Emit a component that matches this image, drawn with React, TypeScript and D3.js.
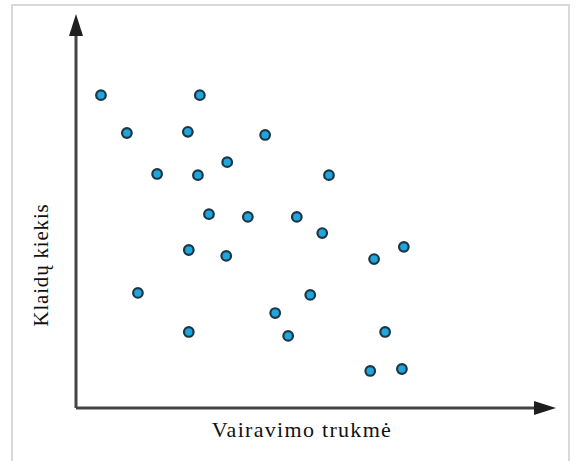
import React from "react";
import * as d3 from "d3";

// schematic scatter: no ticks, values on 0..100 scale
const xValues = [5.2, 25.8, 10.6, 23.3, 39.4, 16.9, 25.4, 31.5, 52.7, 27.7, 35.8, 46.0, 51.3, 23.5, 31.3, 62.1, 68.3, 12.9, 48.8, 41.5, 23.5, 44.2, 64.4, 61.3, 67.9];
const yValues = [79.4, 79.4, 69.8, 70.1, 69.3, 59.4, 59.1, 62.4, 59.1, 49.2, 48.5, 48.5, 44.4, 40.1, 38.6, 37.8, 40.9, 29.2, 28.7, 24.1, 19.3, 18.3, 19.3, 9.4, 9.9];

const xLabel = "Vairavimo trukmė";
const yLabel = "Klaidų kiekis";

const width = 576;
const height = 461;
const origin = { x: 76, y: 408 };

const App = () => {
  const x = d3.scaleLinear().domain([0, 100]).range([origin.x, 556]);
  const y = d3.scaleLinear().domain([0, 100]).range([origin.y, 14]);

  const axisColor = "#454545";
  const xEnd = x(100);
  const yEnd = y(100);
  const serif = "'Liberation Serif', 'Times New Roman', serif";

  return (
    <svg
      width={width}
      height={height}
      style={{ position: "absolute", left: 0, top: 0, background: "#fff" }}
    >
      {/* frame */}
      <rect x={12} y={5} width={557} height={470} fill="none" stroke="#d9d9d9" strokeWidth={2} />

      {/* axes */}
      <line x1={origin.x} y1={origin.y} x2={xEnd - 18} y2={origin.y} stroke={axisColor} strokeWidth={3} />
      <line x1={origin.x} y1={origin.y} x2={origin.x} y2={yEnd + 18} stroke={axisColor} strokeWidth={3} />
      <path d={`M${xEnd},${origin.y} L${xEnd - 22},${origin.y - 7} L${xEnd - 22},${origin.y + 7} Z`} fill="#1e1e1e" />
      <path d={`M${origin.x},${yEnd} L${origin.x - 7},${yEnd + 22} L${origin.x + 7},${yEnd + 22} Z`} fill="#1e1e1e" />

      {/* points */}
      <g>
        {xValues.map((v, i) => (
          <circle
            key={i}
            cx={x(v)}
            cy={y(yValues[i])}
            r={4.8}
            fill="#1fa6dc"
            stroke="#1d3645"
            strokeWidth={2.2}
          />
        ))}
      </g>

      <text
        x={302}
        y={437}
        textAnchor="middle"
        fontFamily={serif}
        fontSize={22}
        letterSpacing={1.3}
        fill="#111"
      >
        {xLabel}
      </text>
      <text
        transform={`translate(48,265) rotate(-90)`}
        textAnchor="middle"
        fontFamily={serif}
        fontSize={21}
        letterSpacing={0.8}
        fill="#111"
      >
        {yLabel}
      </text>
    </svg>
  );
};

export default App;
